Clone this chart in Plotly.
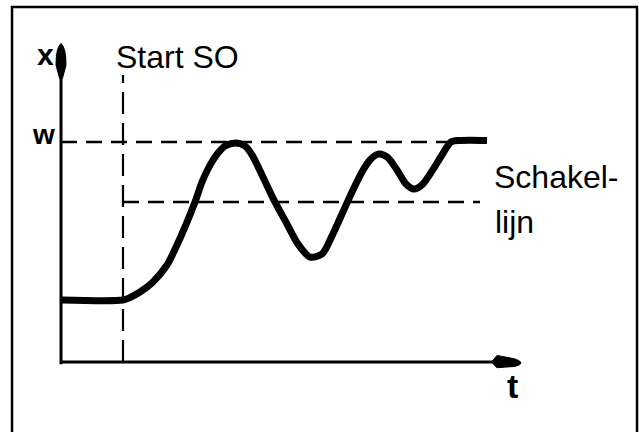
import plotly.graph_objects as go

# ---- data (time t in arbitrary units, controlled variable x in % of setpoint w) ----
t_curve = [0.0, 6.2, 6.9, 7.9, 9.2, 10.6, 11.6, 12.6, 13.4, 14.1, 14.9, 15.7, 16.4, 17.4,
           18.4, 19.1, 20.1, 21.3, 22.6, 23.7, 24.9, 26.1, 27.1, 28.1, 29.1, 30.1, 30.9,
           31.7, 32.6, 33.6, 34.5, 35.3, 36.1, 37.1, 38.1, 39.0, 39.9, 42.6]
x_curve = [28.2, 28.2, 29.3, 31.8, 36.4, 44.1, 53.2, 63.6, 72.7, 81.8, 89.5, 95.0, 98.2, 99.6,
           98.2, 94.1, 85.0, 73.6, 62.7, 53.6, 47.7, 49.1, 57.3, 67.3, 77.3, 86.4, 91.8,
           94.5, 93.2, 87.3, 80.9, 78.6, 80.5, 86.8, 94.1, 100.0, 100.7, 100.7]

w_level = 100.0          # setpoint w
schakel_level = 72.7     # switching line ("Schakellijn")
t_start = 6.2            # "Start SO"
w_line_end = 39.0
schakel_line_end = 41.9
t_axis_end = 43.5
x_axis_end = 129.5

labels = {"x": "x", "w": "w", "t": "t", "start": "Start SO",
          "schakel1": "Schakel-", "schakel2": "lijn"}

X_RANGE = [-6.1, 57.8]
Y_RANGE = [-31.82, 164.55]

fig = go.Figure()

# dashed reference lines
dash = "16px,9px"
fig.add_trace(go.Scatter(x=[0, w_line_end], y=[w_level, w_level], mode="lines",
                         line=dict(color="black", width=2.5, dash=dash), hoverinfo="skip"))
fig.add_trace(go.Scatter(x=[t_start, schakel_line_end], y=[schakel_level, schakel_level], mode="lines",
                         line=dict(color="black", width=2.5, dash=dash), hoverinfo="skip"))
fig.add_trace(go.Scatter(x=[t_start, t_start], y=[0, 130.5], mode="lines",
                         line=dict(color="black", width=2.2, dash="22px,9px"), hoverinfo="skip"))

# axes
fig.add_trace(go.Scatter(x=[0, 0], y=[-1, x_axis_end], mode="lines",
                         line=dict(color="black", width=3), hoverinfo="skip"))
fig.add_trace(go.Scatter(x=[0, t_axis_end], y=[0, 0], mode="lines",
                         line=dict(color="black", width=3), hoverinfo="skip"))

# response curve
fig.add_trace(go.Scatter(x=t_curve, y=x_curve, mode="lines",
                         line=dict(color="black", width=7, shape="spline", smoothing=0.8),
                         hoverinfo="skip"))

shapes = [
    # y-axis arrowhead (teardrop)
    dict(type="path", xref="x", yref="y",
         path="M -0.15,129 L -0.5,135 Q -0.5,143 0,144.8 Q 0.5,143 0.5,135 L 0.15,129 Z",
         fillcolor="black", line=dict(color="black", width=1)),
    # t-axis arrowhead (bullet)
    dict(type="path", xref="x", yref="y",
         path="M 43.2,-0.8 L 43.6,-2.6 L 45.4,-2.0 Q 46.6,-0.6 45.4,1.4 L 43.6,3.0 L 43.2,0.8 Z",
         fillcolor="black", line=dict(color="black", width=1)),
    # frame
    dict(type="rect", xref="paper", yref="paper", x0=0.0188, x1=0.9969, y0=-0.05, y1=0.9838,
         line=dict(color="black", width=2.5), fillcolor="rgba(0,0,0,0)"),
]

font_reg = dict(family="Liberation Sans, Arial, sans-serif", size=32, color="black")
font_bold = dict(family="Liberation Sans, Arial, sans-serif", color="black")

annotations = [
    dict(x=-1.6, y=139.8, text=f"<b>{labels['x']}</b>", showarrow=False,
         font=dict(**font_bold, size=30), xanchor="center", yanchor="middle"),
    dict(x=-1.8, y=103.2, text=f"<b>{labels['w']}</b>", showarrow=False,
         font=dict(**font_bold, size=28), xanchor="center", yanchor="middle"),
    dict(x=45.1, y=-10.9, text=f"<b>{labels['t']}</b>", showarrow=False,
         font=dict(**font_bold, size=34), xanchor="center", yanchor="middle"),
    dict(x=5.3, y=138.6, text=labels["start"], showarrow=False, font=font_reg,
         xanchor="left", yanchor="middle"),
    dict(x=43.1, y=84.1, text=labels["schakel1"], showarrow=False, font=font_reg,
         xanchor="left", yanchor="middle"),
    dict(x=43.2, y=63.6, text=labels["schakel2"], showarrow=False, font=font_reg,
         xanchor="left", yanchor="middle"),
]

fig.update_layout(
    width=639, height=432,
    margin=dict(l=0, r=0, t=0, b=0),
    paper_bgcolor="white", plot_bgcolor="white",
    showlegend=False,
    hovermode=False,
    xaxis=dict(range=X_RANGE, visible=False, fixedrange=True),
    yaxis=dict(range=Y_RANGE, visible=False, fixedrange=True),
    shapes=shapes, annotations=annotations,
)

fig.write_html("out.html",
               config={"displayModeBar": False, "staticPlot": True},
               post_script="document.body.style.margin='0';document.body.style.overflow='hidden';")
